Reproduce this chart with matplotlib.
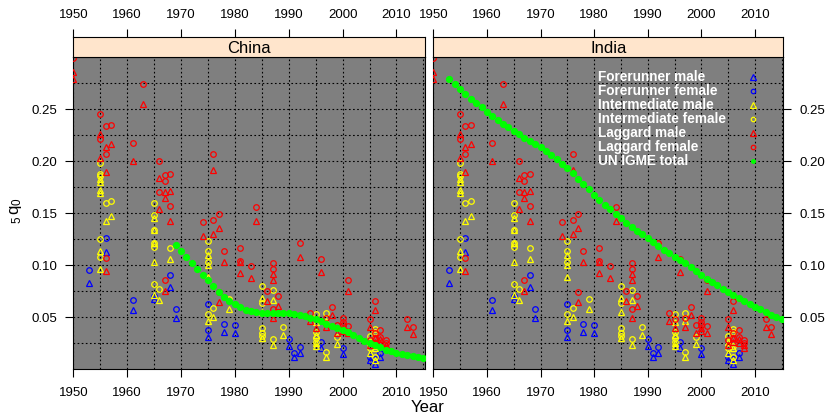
import numpy as np
import matplotlib.pyplot as plt

plt.rcParams['font.family'] = ['Liberation Sans', 'DejaVu Sans']
plt.rcParams['mathtext.fontset'] = 'custom'
plt.rcParams['mathtext.rm'] = 'Liberation Sans'
plt.rcParams['mathtext.it'] = 'Liberation Sans:italic'

countries = ['China', 'India']

# survey estimates of 5q0 (same points shown in both panels)
fm_year = [1953, 1956, 1961, 1965, 1968, 1969, 1975, 1978, 1980, 1990, 1991, 1992,
           1996, 2000, 2005, 2006, 2007]
fm_q0 = [0.083, 0.113, 0.057, 0.068, 0.079, 0.049, 0.031, 0.036, 0.035, 0.0224, 0.0115, 0.0155,
         0.020, 0.015, 0.009, 0.0055, 0.0115]

ff_year = [1953, 1956, 1961, 1965, 1968, 1969, 1975, 1975, 1978, 1980, 1990, 1991, 1992,
           1996, 2000, 2005, 2006, 2007]
ff_q0 = [0.0955, 0.1263, 0.0666, 0.070, 0.0904, 0.058, 0.0628, 0.0375, 0.0436, 0.0426, 0.0288, 0.016, 0.0211,
         0.0266, 0.0208, 0.012, 0.0096, 0.016]

im_year = [1955, 1955, 1955, 1955, 1955, 1955, 1956, 1957, 1965, 1965, 1965, 1965, 1965,
           1966, 1968, 1975, 1975, 1975, 1975, 1976, 1979, 1985, 1985, 1985, 1987, 1987,
           1989, 1995, 1995, 1995, 1995, 1997, 1997, 1999, 2005, 2005, 2006, 2006]
im_q0 = [0.183, 0.180, 0.172, 0.1695, 0.1138, 0.0967, 0.1426, 0.147, 0.1457, 0.1335, 0.121, 0.1033, 0.0714,
         0.0667, 0.1058, 0.110, 0.100, 0.0887, 0.0463, 0.0506, 0.058, 0.069, 0.0554, 0.030, 0.0666, 0.0233,
         0.033, 0.045, 0.033, 0.025, 0.0225, 0.0467, 0.012, 0.024, 0.026, 0.016, 0.020, 0.009]

if_year = [1955, 1955, 1955, 1955, 1955, 1956, 1957, 1965, 1965, 1965, 1965, 1965, 1965,
           1966, 1968, 1975, 1975, 1975, 1975, 1976, 1979, 1985, 1985, 1985, 1985, 1985,
           1987, 1987, 1989, 1995, 1995, 1995, 1995, 1997, 1997, 1999, 2005, 2005,
           2006, 2006, 2006, 2006]
if_q0 = [0.1984, 0.188, 0.186, 0.1257, 0.1077, 0.1598, 0.1618, 0.160, 0.148, 0.134, 0.121, 0.1176, 0.082,
         0.0769, 0.117, 0.123, 0.114, 0.1033, 0.0535, 0.0593, 0.0673, 0.0798, 0.064, 0.0394, 0.0352, 0.032,
         0.0763, 0.029, 0.0404, 0.053, 0.036, 0.030, 0.026, 0.0545, 0.0169, 0.031, 0.032, 0.020,
         0.039, 0.036, 0.022, 0.012]

lm_year = [1950, 1950, 1955, 1955, 1956, 1956, 1956, 1957, 1961, 1963, 1966, 1966, 1967, 1967, 1967,
           1968, 1968, 1974, 1976, 1976, 1977, 1977, 1978, 1981, 1981, 1983, 1984, 1986, 1987, 1987, 1987,
           1988, 1992, 1994, 1995, 1996, 1997, 1998, 1999, 2000, 2000, 2001, 2001, 2005, 2005,
           2006, 2006, 2006, 2007, 2007, 2008, 2008, 2012, 2013]
lm_q0 = [0.286, 0.2795, 0.226, 0.203, 0.2138, 0.1894, 0.0948, 0.2163, 0.200, 0.2548, 0.184, 0.154, 0.1705, 0.1647, 0.0756,
         0.1715, 0.1426, 0.128, 0.1915, 0.1298, 0.136, 0.065, 0.1029, 0.103, 0.0923, 0.088, 0.1424, 0.066, 0.0915, 0.0855, 0.0496,
         0.0609, 0.1083, 0.0467, 0.040, 0.0939, 0.0404, 0.052, 0.035, 0.0394, 0.037, 0.0753, 0.0346, 0.0404, 0.0233,
         0.057, 0.030, 0.026, 0.029, 0.025, 0.023, 0.020, 0.0404, 0.0337]

lf_year = [1950, 1955, 1955, 1956, 1956, 1956, 1957, 1961, 1963, 1966, 1966, 1967, 1967, 1967,
           1968, 1968, 1974, 1976, 1976, 1977, 1977, 1978, 1981, 1981, 1983, 1984, 1986, 1987, 1987, 1987,
           1988, 1992, 1994, 1995, 1996, 1997, 1998, 1999, 2000, 2000, 2000, 2001, 2001, 2005, 2005,
           2006, 2006, 2006, 2007, 2007, 2008, 2008, 2012, 2013]
lf_q0 = [0.2995, 0.2452, 0.221, 0.2337, 0.2067, 0.1067, 0.2346, 0.218, 0.2747, 0.200, 0.170, 0.1865, 0.181, 0.0859,
         0.1875, 0.157, 0.1413, 0.2074, 0.1433, 0.1497, 0.0746, 0.114, 0.1163, 0.1045, 0.0996, 0.156, 0.0753, 0.1025, 0.0965, 0.058,
         0.0705, 0.1218, 0.054, 0.048, 0.1058, 0.049, 0.060, 0.0426, 0.049, 0.0458, 0.0426, 0.0859, 0.0416, 0.048, 0.028,
         0.066, 0.035, 0.030, 0.0375, 0.031, 0.028, 0.0255, 0.0484, 0.0404]

# UN IGME total series per country
china_igme_year = list(range(1969, 2016))
china_igme_q0 = [0.1195, 0.1138, 0.108, 0.1025, 0.0965, 0.091, 0.086, 0.080, 0.0746, 0.0698,
                 0.0657, 0.0625, 0.060, 0.0573, 0.056, 0.055, 0.0545, 0.054, 0.054, 0.054,
                 0.054, 0.0538, 0.053, 0.052, 0.051, 0.0495, 0.048, 0.046, 0.044, 0.042,
                 0.040, 0.038, 0.036, 0.033, 0.030, 0.0275, 0.025, 0.023, 0.021, 0.019,
                 0.0175, 0.016, 0.015, 0.014, 0.013, 0.012, 0.011]

india_igme_year = list(range(1953, 2016))
india_igme_q0 = [0.2795, 0.2747, 0.2695, 0.2644, 0.2596, 0.2558, 0.252, 0.2478, 0.2436, 0.2397,
                 0.2362, 0.2327, 0.2295, 0.2263, 0.2228, 0.2199, 0.2167, 0.2135, 0.2099, 0.2061,
                 0.2022, 0.1978, 0.1933, 0.1885, 0.1834, 0.1782, 0.1731, 0.168, 0.1628, 0.1581,
                 0.1542, 0.1493, 0.1452, 0.1404, 0.1365, 0.1333, 0.1298, 0.126, 0.1221, 0.1186,
                 0.115, 0.1115, 0.1083, 0.1051, 0.1019, 0.0984, 0.0948, 0.091, 0.0871, 0.0839,
                 0.0808, 0.0775, 0.0746, 0.0717, 0.0689, 0.066, 0.0631, 0.0602, 0.0577, 0.0551,
                 0.0525, 0.0503, 0.0481]

groups = [
    ('Forerunner male', fm_year, fm_q0, '#0000ff', '^'),
    ('Forerunner female', ff_year, ff_q0, '#0000ff', 'o'),
    ('Intermediate male', im_year, im_q0, '#ffff00', '^'),
    ('Intermediate female', if_year, if_q0, '#ffff00', 'o'),
    ('Laggard male', lm_year, lm_q0, '#ff0000', '^'),
    ('Laggard female', lf_year, lf_q0, '#ff0000', 'o'),
]
igme = {'China': (china_igme_year, china_igme_q0),
        'India': (india_igme_year, india_igme_q0)}
igme_color = '#00ff00'

xlim = (1950, 2015.3)
ylim = (0, 0.30)

fig = plt.figure(figsize=(8.29, 4.17), dpi=100)

panel_left = [0.0884, 0.5227]
panel_width = [0.4243, 0.4222]
bottom, height = 0.1144, 0.7482
strip_h = 0.0494

for i, country in enumerate(countries):
    ax = fig.add_axes([panel_left[i], bottom, panel_width[i], height])
    ax.set_facecolor('#7f7f7f')
    ax.set_xlim(xlim)
    ax.set_ylim(ylim)

    ax.set_xticks(np.arange(1950, 2011, 10))
    ax.set_xticks(np.arange(1955, 2016, 10), minor=True)
    ax.set_yticks(np.arange(0.05, 0.26, 0.05))
    ax.set_yticks(np.arange(0.025, 0.28, 0.05), minor=True)
    ax.set_yticklabels(['%.2f' % v for v in np.arange(0.05, 0.26, 0.05)])
    ax.tick_params(which='major', direction='out', length=5.8, width=0.8,
                   labelsize=9.5, pad=5.5)
    ax.tick_params(axis='x', which='major', pad=7)
    ax.tick_params(which='minor', length=0)
    if i == 0:
        ax.yaxis.tick_left()
    else:
        ax.yaxis.tick_right()
    ax.grid(True, which='both', color='black', linestyle=(0, (1.5, 2.2)), linewidth=0.8)
    ax.set_axisbelow(True)
    for s in ax.spines.values():
        s.set_linewidth(0.8)

    for label, yrs, vals, col, mk in groups:
        ax.plot(yrs, vals, linestyle='none', marker=mk, markersize=5.0 if mk == '^' else 4.0,
                markerfacecolor='none', markeredgecolor=col, markeredgewidth=0.9, zorder=3)

    gy, gv = igme[country]
    ax.plot(gy, gv, linestyle='none', marker='o', markersize=4.2,
            markerfacecolor=igme_color, markeredgecolor=igme_color, zorder=4)

    # strip with the country name and the top axis
    strip = fig.add_axes([panel_left[i], bottom + height, panel_width[i], strip_h])
    strip.set_facecolor('#ffe5cc')
    strip.set_xlim(xlim)
    strip.set_yticks([])
    strip.xaxis.tick_top()
    strip.set_xticks(np.arange(1950, 2011, 10))
    strip.tick_params(direction='out', length=5.8, width=0.8, labelsize=9.5, pad=5.5)
    for s in strip.spines.values():
        s.set_linewidth(0.8)
    strip.text(0.5, 0.45, country, transform=strip.transAxes, ha='center', va='center',
               fontsize=12)

    if country == 'India':
        # key drawn inside the panel
        for j, (label, yrs, vals, col, mk) in enumerate(groups):
            yk = 0.936 - j * 0.0449
            ax.text(0.47, yk, label, transform=ax.transAxes, color='white',
                    fontsize=9.8, fontweight='bold', va='center', ha='left', zorder=6)
            ax.plot([0.914], [yk], transform=ax.transAxes, linestyle='none', marker=mk,
                    markersize=3.8 if mk == '^' else 3.2, markerfacecolor='none',
                    markeredgecolor=col, markeredgewidth=0.9, zorder=6, clip_on=False)
        yk = 0.936 - 6 * 0.0449
        ax.text(0.47, yk, 'UN IGME total', transform=ax.transAxes, color='white',
                fontsize=9.8, fontweight='bold', va='center', ha='left', zorder=6)
        ax.plot([0.914], [yk], transform=ax.transAxes, linestyle='none', marker='o',
                markersize=2.6, markerfacecolor=igme_color, markeredgecolor=igme_color,
                zorder=6, clip_on=False)

fig.text(0.516, 0.022, 'Year', ha='center', va='center', fontsize=12)
fig.text(0.019, 0.496, r'${}_{5}\,\mathrm{q}_{0}$', ha='center', va='center',
         rotation=90, fontsize=12)

plt.savefig('out.png', dpi=100)
